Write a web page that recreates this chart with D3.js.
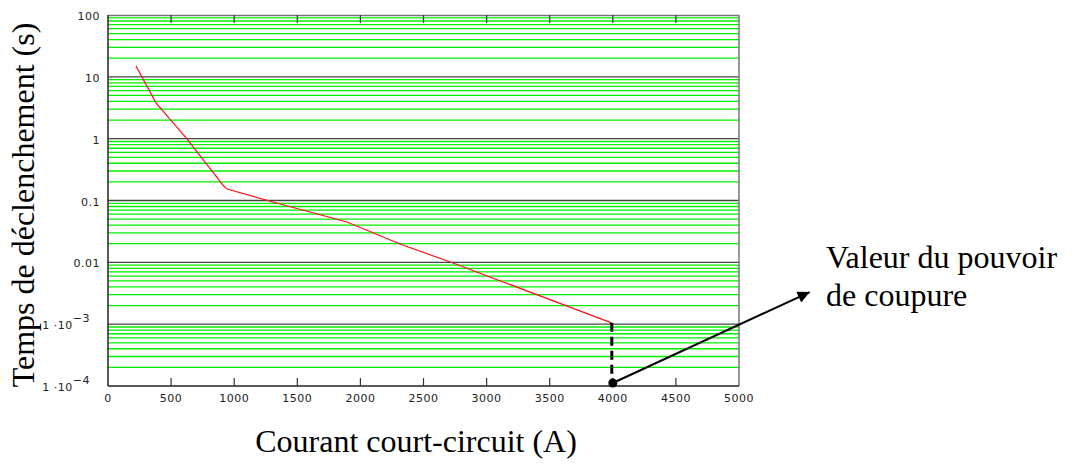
<!DOCTYPE html>
<html><head><meta charset="utf-8">
<script src="https://cdn.jsdelivr.net/npm/d3@7"></script>
<style>html,body{margin:0;padding:0;background:#fff;}</style>
</head><body>
<svg id="c" width="1074" height="472"></svg>
<script>
// ---- data ----
const xTickValues = [0, 500, 1000, 1500, 2000, 2500, 3000, 3500, 4000, 4500, 5000];
const yTickValues = [1e-4, 1e-3, 0.01, 0.1, 1, 10, 100];
const yTickMain = ["1 \u00b710", "1 \u00b710", "0.01", "0.1", "1", "10", "100"];
const yTickExp = ["\u22124", "\u22123", "", "", "", "", ""];
const curveCurrent = [222, 380, 624, 911, 943, 1307, 1894, 2314, 2734, 3990];
const curveTime = [15, 3.8, 1.0, 0.178, 0.153, 0.0946, 0.0449, 0.0198, 0.00975, 0.00105];
const breakingCurrent = 4000;
const breakingTimeTop = 0.00105;
const arrowTarget = [5560, 0.0033];
const yTitle = "Temps de d\u00e9clenchement (s)";
const xTitle = "Courant court-circuit (A)";
const noteLines = ["Valeur du pouvoir", "de coupure"];

// ---- layout ----
const L = 108, R = 739, T = 15, B = 386;
const svg = d3.select("#c");
const x = d3.scaleLinear().domain([0, 5000]).range([L, R]);
const y = d3.scaleLog().domain([1e-4, 100]).range([B, T]);

// minor gridlines
const minor = [];
for (let e = -4; e < 2; e++) for (let k = 2; k <= 9; k++) minor.push(k * Math.pow(10, e));
svg.append("g").selectAll("line").data(minor).join("line")
  .attr("x1", L).attr("x2", R)
  .attr("y1", d => y(d)).attr("y2", d => y(d))
  .attr("stroke", "#00f000").attr("stroke-width", 1.3);

// decade lines
svg.append("g").selectAll("line").data(yTickValues.slice(1, -1)).join("line")
  .attr("x1", L).attr("x2", R)
  .attr("y1", d => y(d)).attr("y2", d => y(d))
  .attr("stroke", "#444").attr("stroke-width", 1.4);

// frame
svg.append("line").attr("x1", L).attr("x2", R).attr("y1", T + 0.5).attr("y2", T + 0.5).attr("stroke", "#777").attr("stroke-width", 1.5);
svg.append("line").attr("x1", R).attr("x2", R).attr("y1", T).attr("y2", B).attr("stroke", "#777").attr("stroke-width", 1.5);
svg.append("line").attr("x1", L).attr("x2", L).attr("y1", T).attr("y2", B).attr("stroke", "#222").attr("stroke-width", 1.5);
svg.append("line").attr("x1", L).attr("x2", R).attr("y1", B).attr("y2", B).attr("stroke", "#222").attr("stroke-width", 1.5);

// ticks top and bottom
const inner = xTickValues.slice(1, -1);
svg.append("g").selectAll("line").data(inner).join("line")
  .attr("x1", d => x(d)).attr("x2", d => x(d)).attr("y1", T).attr("y2", T + 8)
  .attr("stroke", "#333").attr("stroke-width", 1.2);
svg.append("g").selectAll("line").data(inner).join("line")
  .attr("x1", d => x(d)).attr("x2", d => x(d)).attr("y1", B).attr("y2", B - 8)
  .attr("stroke", "#333").attr("stroke-width", 1.2);

// x tick labels
svg.append("g").selectAll("text").data(xTickValues).join("text")
  .attr("x", d => x(d)).attr("y", 402).attr("text-anchor", "middle")
  .attr("font-family", "DejaVu Sans").attr("font-size", 11).attr("letter-spacing", 0.5).attr("fill", "#222")
  .text(d => d);

// y tick labels
const yl = svg.append("g").selectAll("text").data(yTickValues).join("text")
  .attr("x", (d, i) => yTickExp[i] ? 90 : 100)
  .attr("y", d => y(d) + 5).attr("text-anchor", "end")
  .attr("font-family", "DejaVu Sans").attr("font-size", 11).attr("letter-spacing", 0.5).attr("fill", "#222");
yl.append("tspan").text((d, i) => yTickMain[i]);
yl.append("tspan").attr("dy", -7).text((d, i) => yTickExp[i]);

// curve
const pts = curveCurrent.map((c, i) => [c, curveTime[i]]);
svg.append("path").datum(pts)
  .attr("d", d3.line().x(d => x(d[0])).y(d => y(d[1])))
  .attr("fill", "none").attr("stroke", "#ff1010").attr("stroke-width", 1.2);

// breaking capacity dashed line and dot
svg.append("line").attr("x1", x(breakingCurrent) - 1).attr("x2", x(breakingCurrent) - 1)
  .attr("y1", y(breakingTimeTop)).attr("y2", y(1e-4) - 3)
  .attr("stroke", "#000").attr("stroke-width", 3).attr("stroke-dasharray", "9,5");

// arrow
svg.append("defs").append("marker").attr("id", "ah").attr("viewBox", "0 0 10 10")
  .attr("refX", 10).attr("refY", 5).attr("markerWidth", 16).attr("markerHeight", 12)
  .attr("markerUnits", "userSpaceOnUse").attr("orient", "auto")
  .append("path").attr("d", "M0,0L10,5L0,10Z").attr("fill", "#000");
svg.append("line").attr("x1", x(breakingCurrent)).attr("y1", y(1e-4) - 3)
  .attr("x2", x(arrowTarget[0])).attr("y2", y(arrowTarget[1]))
  .attr("stroke", "#000").attr("stroke-width", 2).attr("marker-end", "url(#ah)");
svg.append("circle").attr("cx", x(breakingCurrent)).attr("cy", y(1e-4) - 3).attr("r", 4.5).attr("fill", "#000");

// annotation text
svg.append("g").selectAll("text").data(noteLines).join("text")
  .attr("x", 826).attr("y", (d, i) => 268 + i * 38)
  .attr("font-family", "Liberation Serif").attr("font-size", 32).attr("fill", "#000")
  .text(d => d);

// axis titles
svg.append("text").attr("transform", "translate(34,205) rotate(-90)").attr("text-anchor", "middle")
  .attr("font-family", "Liberation Serif").attr("font-size", 32).attr("fill", "#000").text(yTitle);
svg.append("text").attr("x", 416).attr("y", 452).attr("text-anchor", "middle")
  .attr("font-family", "Liberation Serif").attr("font-size", 32).attr("fill", "#000").text(xTitle);
</script>
</body></html>
